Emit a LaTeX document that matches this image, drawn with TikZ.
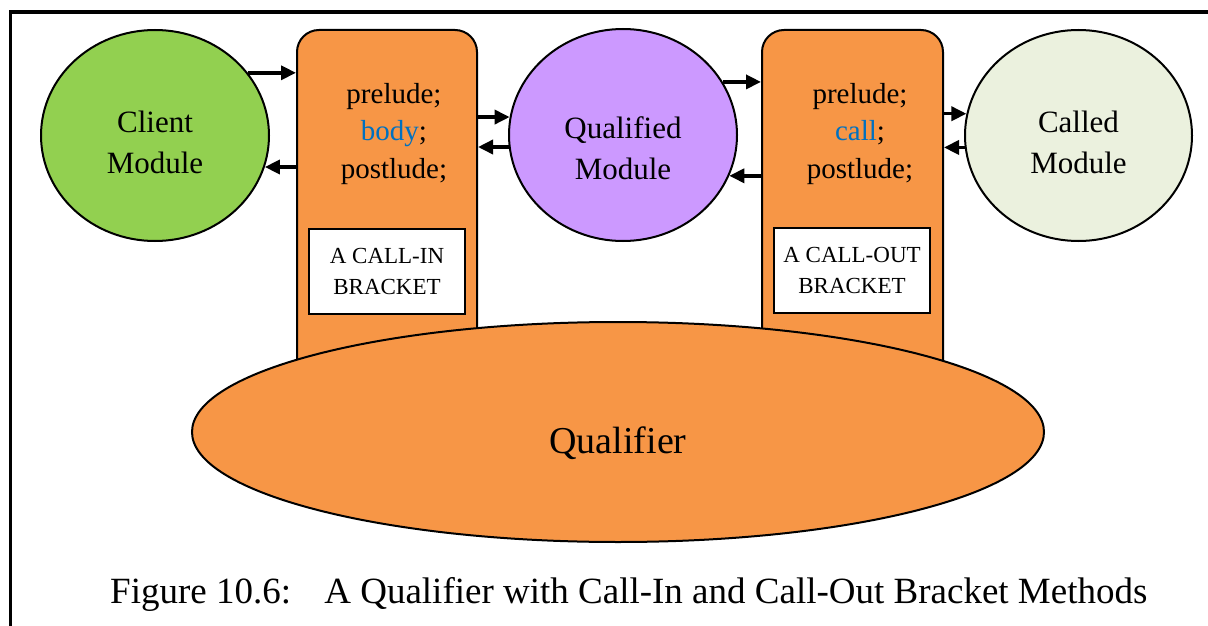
\documentclass[tikz,border=0pt]{standalone}
\usepackage{fontspec}
\setmainfont{Liberation Serif}
\usetikzlibrary{arrows.meta,shapes.geometric}
\definecolor{clientgreen}{HTML}{92D050}
\definecolor{qualpurple}{HTML}{CC99FF}
\definecolor{calledgreen}{HTML}{EBF1DE}
\definecolor{bracketorange}{HTML}{F79646}
\definecolor{codeblue}{HTML}{0070C0}

\begin{document}
\begin{tikzpicture}[x=1pt,y=-1pt,
  module/.style={ellipse, draw, line width=2pt, inner sep=0pt,
    minimum width=228pt, minimum height=211pt},
  bracket/.style={rectangle, draw, line width=2pt, rounded corners=22pt,
    fill=bracketorange, minimum width=180pt, minimum height=390pt, inner sep=0pt},
  tag/.style={rectangle, draw, line width=1.6pt, fill=white, inner sep=0pt,
    minimum width=156pt, minimum height=85pt, align=center,
    font=\fontsize{23}{31}\selectfont},
  modtext/.style={align=center, inner sep=0pt, font=\fontsize{31}{41}\selectfont},
  codetext/.style={align=center, inner sep=0pt, font=\fontsize{29}{37.5}\selectfont},
  flow/.style={line width=3.5pt, -{Triangle[length=15pt,width=14pt]}},
]
\useasboundingbox (0,0) rectangle (1208,626);

% outer frame (top and left edges)
\draw[line width=3.5pt] (1208,12) -- (10.5,12) -- (10.5,626);

% bracket bodies (their lower ends disappear behind the qualifier)
\node[bracket] (rectL) at (387,225) {};
\node[bracket, minimum width=181pt] (rectR) at (852.5,225) {};

% the qualifier
\node[ellipse, draw, line width=2pt, fill=bracketorange, inner sep=0pt,
  minimum width=852pt, minimum height=220pt] (qualifier) at (618,432) {};
\node[inner sep=0pt, anchor=base, font=\fontsize{38}{44}\selectfont]
  (qualifierText) at (618,453) {Qualifier};

% bracket code and tags
\node[codetext] (codeL) at (394,134)
  {prelude;\\\textcolor{codeblue}{body};\\postlude;};
\node[codetext] (codeR) at (860,134)
  {prelude;\\\textcolor{codeblue}{call};\\postlude;};
\node[tag] (tagL) at (387,271.5) {A CALL-IN\\BRACKET};
\node[tag] (tagR) at (852,270.5) {A CALL-OUT\\BRACKET};

% modules
\node[module, fill=clientgreen] (client) at (155,135.5) {};
\node[modtext] (clientText) at (155,142) {Client\\Module};
\node[module, fill=qualpurple, minimum height=212pt] (qual) at (623,135) {};
\node[modtext] (qualText) at (623,148) {Qualified\\Module};
\node[module, fill=calledgreen, minimum width=227pt] (called) at (1078.5,135.5) {};
\node[modtext] (calledText) at (1078.5,142) {Called\\Module};

% calls and returns
\draw[flow] (client.34.9) -- (client.34.9 -| rectL.west);
\draw[flow] (rectL.west |- client.-16.7) -- (client.-16.7);
\draw[flow] (rectL.east |- qual.171.9) -- (qual.171.9);
\draw[flow] (qual.186) -- (qual.186 -| rectL.east);
\draw[flow] (qual.28.2) -- (qual.28.2 -| rectR.west);
\draw[flow] (rectR.west |- qual.-21.9) -- (qual.-21.9);
\draw[flow] (rectR.east |- called.169.6) -- (called.169.6);
\draw[flow] (called.186.3) -- (called.186.3 -| rectR.east);

% caption
\node[inner sep=0pt, anchor=base west, font=\fontsize{37}{44}\selectfont]
  (caption) at (110,603)
  {Figure 10.6:\hspace{0.9em}A Qualifier with Call-In and Call-Out Bracket Methods};
\end{tikzpicture}
\end{document}
